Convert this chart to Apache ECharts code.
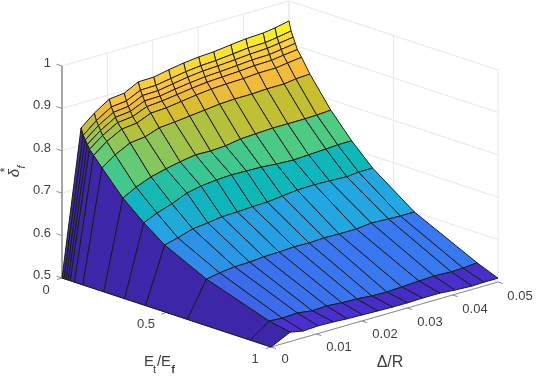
<!DOCTYPE html>
<html><head><meta charset="utf-8">
<style>html,body{margin:0;padding:0;background:#fff}#c{width:536px;height:377px}</style>
<script src="https://cdn.jsdelivr.net/npm/echarts@6/dist/echarts.min.js"></script>
</head><body><div id="c"></div>
<script>
// Grid of the surface
const etValues = [0, 0.01, 0.02, 0.03, 0.04, 0.06, 0.1, 0.2, 0.3, 0.4, 0.6, 0.9, 1];
const deltaValues = [0, 0.0042, 0.0071, 0.0104, 0.0137, 0.0168, 0.0202, 0.0235, 0.0268, 0.0301, 0.0334, 0.0372, 0.0405, 0.0443, 0.0469, 0.05];
// delta_f* per Et/Ef row
const zEt000 = [0.5, .841,.867,.890,.894,.911,.912,.919,.925,.929,.931,.936,.940,.942,.946,.953];
const zEt001 = [0.5, .825,.851,.873,.877,.893,.894,.900,.906,.910,.912,.916,.920,.921,.925,.931];
const zEt002 = [0.5, .816,.841,.862,.866,.882,.883,.889,.895,.899,.901,.904,.907,.909,.913,.918];
const zEt003 = [0.5, .807,.831,.852,.856,.871,.872,.878,.883,.887,.889,.892,.895,.896,.900,.905];
const zEt004 = [0.5, .797,.821,.841,.845,.859,.862,.867,.872,.876,.878,.880,.883,.884,.888,.892];
const zEt006 = [0.5, .786,.810,.829,.833,.847,.849,.854,.859,.863,.865,.866,.869,.869,.873,.877];
const zEt010 = [0.5, .763,.785,.803,.807,.819,.822,.826,.830,.834,.836,.836,.838,.838,.842,.844];
const zEt020 = [0.5, .708,.725,.739,.748,.755,.761,.760,.762,.768,.770,.772,.772,.772,.773,.775];
const zEt030 = [0.5, .666,.680,.692,.707,.714,.718,.720,.719,.718,.715,.713,.715,.717,.719,.719];
const zEt040 = [0.5, .630,.638,.649,.653,.658,.659,.661,.662,.666,.670,.671,.670,.668,.671,.671];
const zEt060 = [0.5, .582,.588,.592,.593,.596,.597,.599,.598,.600,.599,.599,.603,.601,.600,.600];
const zEt090 = [0.5, .532,.530,.532,.527,.529,.526,.525,.522,.521,.523,.525,.527,.525,.526,.529];
const zEt100 = [0.5, .522,.516,.518,.517,.515,.514,.513,.512,.512,.513,.513,.510,.508,.509,.509];
const zRows = [zEt000,zEt001,zEt002,zEt003,zEt004,zEt006,zEt010,zEt020,zEt030,zEt040,zEt060,zEt090,zEt100];
// Ticks
const zTicks = [0.5,0.6,0.7,0.8,0.9,1];
const zTickLabels = ['0.5','0.6','0.7','0.8','0.9','1'];
const deltaTicks = [0,0.01,0.02,0.03,0.04,0.05];
const deltaTickLabels = ['0','0.01','0.02','0.03','0.04','0.05'];
const etTicks = [0,0.5,1];
const etTickLabels = ['0','0.5','1'];
// Colour scale: height -> colour
const colorZ = [0.5, 0.53, 0.6, 0.671, 0.719, 0.775, 0.844, 0.877, 0.92, 0.953];
const colorRGB = [[62,38,168],[74,48,208],[56,120,240],[34,168,224],[12,184,184],[82,204,128],[207,190,42],[253,187,63],[250,213,53],[249,250,20]];

function colorOf(z){
  let i=0;
  while(i<colorZ.length-2 && z>colorZ[i+1]) i++;
  const f=Math.max(0,Math.min(1,(z-colorZ[i])/(colorZ[i+1]-colorZ[i])));
  const c=colorRGB[i].map((v,k)=>Math.round(v+(colorRGB[i+1][k]-v)*f));
  return 'rgb('+c.join(',')+')';
}
// 3-D view projected on the hidden pixel axes
function proj(e,d,z){
  const dn=d/0.05;
  return [62+209*e+227*dn, 278+69*e-65*dn-424*(z-0.5)];
}
const FONT='"Liberation Sans",Arial,sans-serif';
const TXT='#404040';

// scene lines
const bgItems=[];
const GRID='#e8e8e8';
zTicks.forEach(z=>{bgItems.push({a:[0,0,z],b:[0,.05,z],c:GRID,w:1});bgItems.push({a:[0,.05,z],b:[1,.05,z],c:GRID,w:1});});
deltaTicks.forEach(d=>{bgItems.push({a:[0,d,.5],b:[0,d,1],c:GRID,w:1});bgItems.push({a:[0,d,.5],b:[1,d,.5],c:GRID,w:1});});
etTicks.forEach(e=>{bgItems.push({a:[e,.05,.5],b:[e,.05,1],c:GRID,w:1});bgItems.push({a:[e,0,.5],b:[e,.05,.5],c:GRID,w:1});});
bgItems.push({a:[0,0,.5],b:[0,0,1],c:'#a6a6a6',w:2});
bgItems.push({a:[1,0,.5],b:[1,.05,.5],c:'#8c8c8c',w:1});
bgItems.push({a:[0,0,.5],b:[1,0,.5],c:'#5c5c5c',w:1});
const tickItems=[];
zTicks.forEach(z=>tickItems.push({a:[0,0,z],o:[-5.5,-1.8]}));
deltaTicks.forEach(d=>tickItems.push({a:[1,d,.5],o:[5,1.6]}));
etTicks.forEach(e=>tickItems.push({a:[e,0,.5],o:[-5,1.5]}));

const faces=[];
for(let i=0;i<etValues.length-1;i++) for(let j=deltaValues.length-2;j>=0;j--) faces.push([i,j]);

const labels=[];
zTicks.forEach((z,k)=>labels.push({t:zTickLabels[k],x:51,y:proj(0,0,z)[1]-2.5,al:'right',s:13}));
const dLabelPos=[[285,359],[339,347],[385,334],[430,322],[475,309],[520,296]];
deltaTicks.forEach((d,k)=>labels.push({t:deltaTickLabels[k],x:dLabelPos[k][0],y:dLabelPos[k][1],al:'center',s:13}));
const eLabelPos=[[46,290],[146,324],[255,359]];
etTicks.forEach((e,k)=>labels.push({t:etTickLabels[k],x:eLabelPos[k][0],y:eLabelPos[k][1],al:'center',s:13}));
labels.push({t:'Δ/R',x:390,y:363,al:'center',s:16});
labels.push({t:'E',x:149,y:362,al:'center',s:15});
labels.push({t:'t',x:154.5,y:370,al:'center',s:11});
labels.push({t:'/E',x:164,y:362,al:'center',s:15});
labels.push({t:'f',x:173,y:370,al:'center',s:11,b:1});
labels.push({t:'δ',x:15,y:173,al:'center',s:15,i:1,r:Math.PI/2});
labels.push({t:'*',x:5,y:170,al:'center',s:13,r:Math.PI/2});
labels.push({t:'f',x:22,y:167,al:'center',s:11,i:1,r:Math.PI/2});

const chart=echarts.init(document.getElementById('c'),null,{renderer:'canvas'});
const pt=(api,p)=>api.coord(proj(p[0],p[1],p[2]));
chart.setOption({
  animation:false,
  backgroundColor:'#fff',
  grid:{left:0,right:0,top:0,bottom:0},
  xAxis:{type:'value',min:0,max:536,show:false},
  yAxis:{type:'value',min:0,max:377,inverse:true,show:false},
  series:[
    {type:'custom',silent:true,clip:false,coordinateSystem:'cartesian2d',data:bgItems.map((_,k)=>[k]),
     renderItem:(p,api)=>{const it=bgItems[api.value(0)];const A=pt(api,it.a),B=pt(api,it.b);
       return {type:'line',shape:{x1:A[0],y1:A[1],x2:B[0],y2:B[1]},style:{stroke:it.c,lineWidth:it.w}};}},
    {type:'custom',silent:true,clip:false,coordinateSystem:'cartesian2d',data:tickItems.map((_,k)=>[k]),
     renderItem:(p,api)=>{const it=tickItems[api.value(0)];const A=pt(api,it.a);
       return {type:'line',shape:{x1:A[0],y1:A[1],x2:A[0]+it.o[0],y2:A[1]+it.o[1]},style:{stroke:'#8c8c8c',lineWidth:1}};}},
    {type:'custom',silent:true,clip:false,coordinateSystem:'cartesian2d',data:faces,
     renderItem:(p,api)=>{const i=api.value(0),j=api.value(1);
       const corners=[[i,j],[i,j+1],[i+1,j+1],[i+1,j]].map(c=>pt(api,[etValues[c[0]],deltaValues[c[1]],zRows[c[0]][c[1]]]));
       return {type:'polygon',shape:{points:corners},style:{fill:colorOf(zRows[i][j]),stroke:'#1c1c1c',lineWidth:1,lineJoin:'round'}};}},
    {type:'custom',silent:true,clip:false,coordinateSystem:'cartesian2d',data:labels.map((_,k)=>[k]),
     renderItem:(p,api)=>{const it=labels[api.value(0)];const P=api.coord([it.x,it.y]);
       return {type:'text',x:P[0],y:P[1],rotation:it.r||0,
         style:{text:it.t,fill:TXT,align:it.al,verticalAlign:'middle',
           font:(it.i?'italic ':'')+(it.b?'bold ':'')+it.s+'px '+FONT}};}}
  ]
});
</script></body></html>
